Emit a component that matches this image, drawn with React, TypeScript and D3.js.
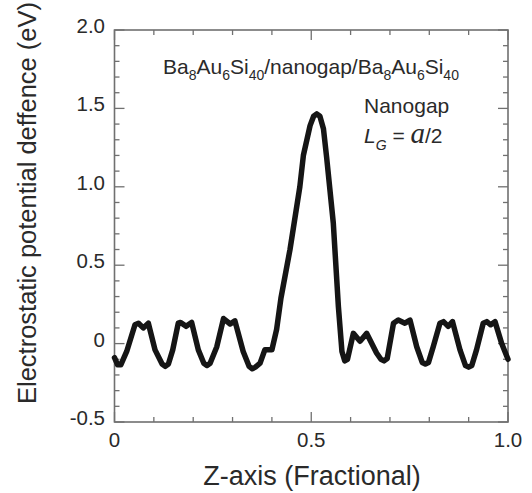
import React from "react";
import * as d3 from "d3";

const zPos = [0.0, 0.008, 0.016, 0.031, 0.052, 0.061, 0.073, 0.086, 0.103, 0.121, 0.129, 0.137, 0.148, 0.162, 0.168, 0.182, 0.196, 0.213, 0.227, 0.235, 0.243, 0.26, 0.277, 0.294, 0.306, 0.327, 0.342, 0.35, 0.358, 0.37, 0.382, 0.4, 0.412, 0.423, 0.446, 0.471, 0.48, 0.497, 0.506, 0.514, 0.522, 0.531, 0.539, 0.556, 0.569, 0.578, 0.585, 0.592, 0.607, 0.624, 0.641, 0.666, 0.677, 0.685, 0.693, 0.709, 0.721, 0.738, 0.751, 0.768, 0.782, 0.79, 0.798, 0.81, 0.827, 0.836, 0.848, 0.859, 0.878, 0.892, 0.9, 0.908, 0.92, 0.937, 0.946, 0.956, 0.967, 0.984, 1.0];
const potential = [-0.09, -0.135, -0.135, -0.05, 0.12, 0.13, 0.1, 0.13, -0.04, -0.13, -0.145, -0.13, -0.04, 0.13, 0.135, 0.11, 0.135, -0.04, -0.125, -0.14, -0.125, -0.02, 0.16, 0.125, 0.145, -0.05, -0.145, -0.16, -0.15, -0.125, -0.04, -0.04, 0.09, 0.29, 0.6, 1.0, 1.2, 1.39, 1.45, 1.465, 1.45, 1.37, 1.19, 0.77, 0.235, -0.05, -0.11, -0.1, 0.065, 0.015, 0.065, -0.06, -0.1, -0.11, -0.095, 0.13, 0.15, 0.13, 0.15, -0.02, -0.12, -0.13, -0.12, -0.02, 0.13, 0.14, 0.11, 0.14, -0.04, -0.14, -0.15, -0.14, -0.04, 0.13, 0.14, 0.12, 0.14, 0.0, -0.1];

const xTickLabels = ["0", "0.5", "1.0"];
const xMajorTicks = [0, 0.5, 1.0];
const xMinorTicks = d3.range(0, 11).map((i) => i / 10);
const yTickLabels = ["-0.5", "0", "0.5", "1.0", "1.5", "2.0"];
const yMajorTicks = [-0.5, 0, 0.5, 1.0, 1.5, 2.0];
const yMinorTicks = d3.range(-5, 21).map((i) => i / 10);

const W = 532;
const H = 493;
const left = 114.5;
const right = 508;
const top = 30;
const bottom = 422;

export default function App() {
  const x = d3.scaleLinear().domain([0, 1]).range([left, right]);
  const y = d3.scaleLinear().domain([-0.5, 2.0]).range([bottom, top]);
  const line = d3
    .line<number>()
    .x((_, i) => x(zPos[i]))
    .y((d) => y(d))
    .curve(d3.curveLinear);
  const axisColor = "#707070";
  const textColor = "#2a2a2a";
  const font = "'Liberation Sans', Arial, Helvetica, sans-serif";
  const isMajorX = (v: number) => xMajorTicks.some((m) => Math.abs(m - v) < 1e-6);
  const isMajorY = (v: number) => yMajorTicks.some((m) => Math.abs(m - v) < 1e-6);

  return (
    <svg
      width={W}
      height={H}
      style={{ position: "absolute", left: 0, top: 0, background: "#fff" }}
      fontFamily={font}
    >
      <rect x={0} y={0} width={W} height={H} fill="#fff" />
      <g stroke={axisColor} strokeWidth={1.3}>
        {xMinorTicks.map((v) => {
          const len = isMajorX(v) ? 10 : 5;
          return (
            <g key={"xt" + v}>
              <line x1={x(v)} x2={x(v)} y1={bottom} y2={bottom - len} />
              <line x1={x(v)} x2={x(v)} y1={top} y2={top + len} />
            </g>
          );
        })}
        {yMinorTicks.map((v) => {
          const len = isMajorY(v) ? 10 : 5;
          return (
            <g key={"yt" + v}>
              <line x1={left} x2={left + len} y1={y(v)} y2={y(v)} />
              <line x1={right} x2={right - len} y1={y(v)} y2={y(v)} />
            </g>
          );
        })}
      </g>
      <rect
        x={left}
        y={top}
        width={right - left}
        height={bottom - top}
        fill="none"
        stroke={axisColor}
        strokeWidth={1.6}
      />
      <path
        d={line(potential) || ""}
        fill="none"
        stroke="#151515"
        strokeWidth={5.5}
        strokeLinejoin="round"
        strokeLinecap="round"
      />
      <g fill={textColor} fontSize={20.5}>
        {xMajorTicks.map((v, i) => (
          <text key={"xl" + v} x={x(v)} y={447} textAnchor="middle">
            {xTickLabels[i]}
          </text>
        ))}
        {yMajorTicks.map((v, i) => (
          <text key={"yl" + v} x={105} y={y(v) + 3} textAnchor="end">
            {yTickLabels[i]}
          </text>
        ))}
      </g>
      <text x={312} y={485} textAnchor="middle" fontSize={27} fill={textColor}>
        Z-axis (Fractional)
      </text>
      <text
        transform="translate(36,203) rotate(-90)"
        textAnchor="middle"
        fontSize={25.5}
        fill={textColor}
      >
        Electrostatic potential deffence (eV)
      </text>
      <text x={311} y={74} textAnchor="middle" fontSize={21} fill={textColor}>
        Ba<tspan fontSize={14} dy={6}>8</tspan>
        <tspan dy={-6}>Au</tspan>
        <tspan fontSize={14} dy={6}>6</tspan>
        <tspan dy={-6}>Si</tspan>
        <tspan fontSize={14} dy={6}>40</tspan>
        <tspan dy={-6}>/nanogap/Ba</tspan>
        <tspan fontSize={14} dy={6}>8</tspan>
        <tspan dy={-6}>Au</tspan>
        <tspan fontSize={14} dy={6}>6</tspan>
        <tspan dy={-6}>Si</tspan>
        <tspan fontSize={14} dy={6}>40</tspan>
      </text>
      <text x={364} y={113} fontSize={21} fill={textColor}>
        Nanogap
      </text>
      <text x={364} y={143} fontSize={21} fill={textColor}>
        <tspan fontStyle="italic">L</tspan>
        <tspan fontSize={14} dy={7} fontStyle="italic">G</tspan>
        <tspan dy={-7}> = </tspan>
        <tspan fontFamily="'Liberation Serif', 'Times New Roman', serif" fontStyle="italic" fontSize={29}>a</tspan>
        <tspan>/2</tspan>
      </text>
    </svg>
  );
}
